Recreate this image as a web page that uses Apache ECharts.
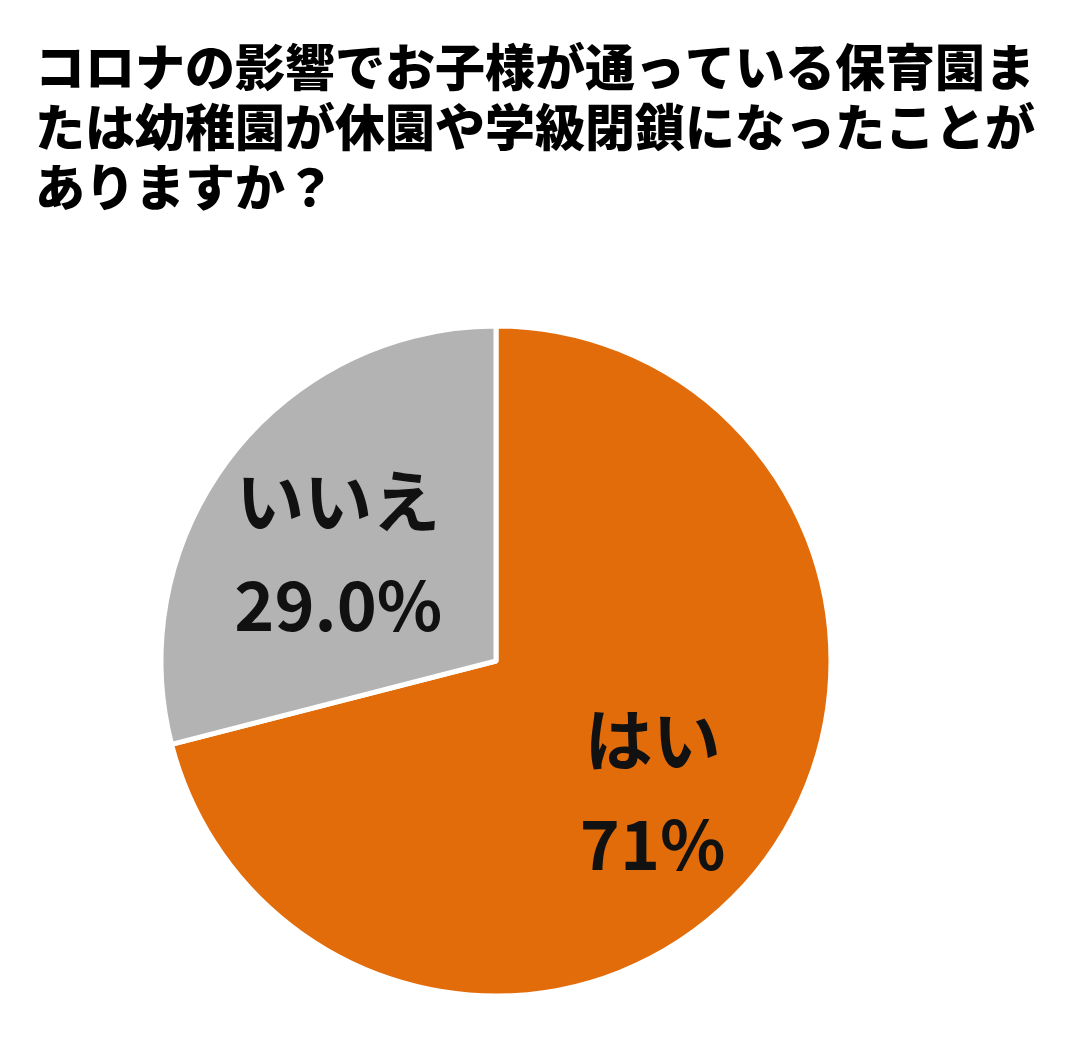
<!DOCTYPE html>
<html>
<head>
<meta charset="utf-8">
<script src="https://cdn.jsdelivr.net/npm/echarts@6/dist/echarts.min.js"></script>
<style>html,body{margin:0;padding:0;background:#fff;}#c{width:1090px;height:1045px;}</style>
</head>
<body>
<div id="c"></div>
<script>
const titleText = 'コロナの影響でお子様が通っている保育園ま\nたは幼稚園が休園や学級閉鎖になったことが\nありますか？';
const categories = ['はい', 'いいえ'];
const values = [71, 29];
const valueLabels = ['71%', '29.0%'];
const colors = ['#E36C0A', '#B3B3B3'];
const labelOffsets = [[22, 27], [-23, -3]];

const chart = echarts.init(document.getElementById('c'), null, {renderer: 'canvas'});
chart.setOption({
  backgroundColor: '#ffffff',
  animation: false,
  title: {
    text: titleText,
    left: 30,
    top: 32,
    textStyle: {
      fontFamily: 'Noto Sans CJK JP',
      fontWeight: 900,
      fontSize: 50,
      lineHeight: 60,
      color: '#000'
    }
  },
  series: [{
    type: 'pie',
    center: [496, 661],
    radius: [0, 335],
    startAngle: 90,
    clockwise: true,
    silent: true,
    itemStyle: {borderColor: '#fff', borderWidth: 5},
    label: {
      show: true,
      position: 'inside',
      fontFamily: 'Noto Sans CJK JP',
      fontSize: 68,
      fontWeight: 'bold',
      color: '#111',
      lineHeight: 104,
      formatter: p => p.name + '\n' + valueLabels[p.dataIndex]
    },
    labelLine: {show: false},
    data: categories.map((c, i) => ({
      name: c,
      value: values[i],
      itemStyle: {color: colors[i]},
      label: {offset: labelOffsets[i]}
    }))
  }]
});
</script>
</body>
</html>
